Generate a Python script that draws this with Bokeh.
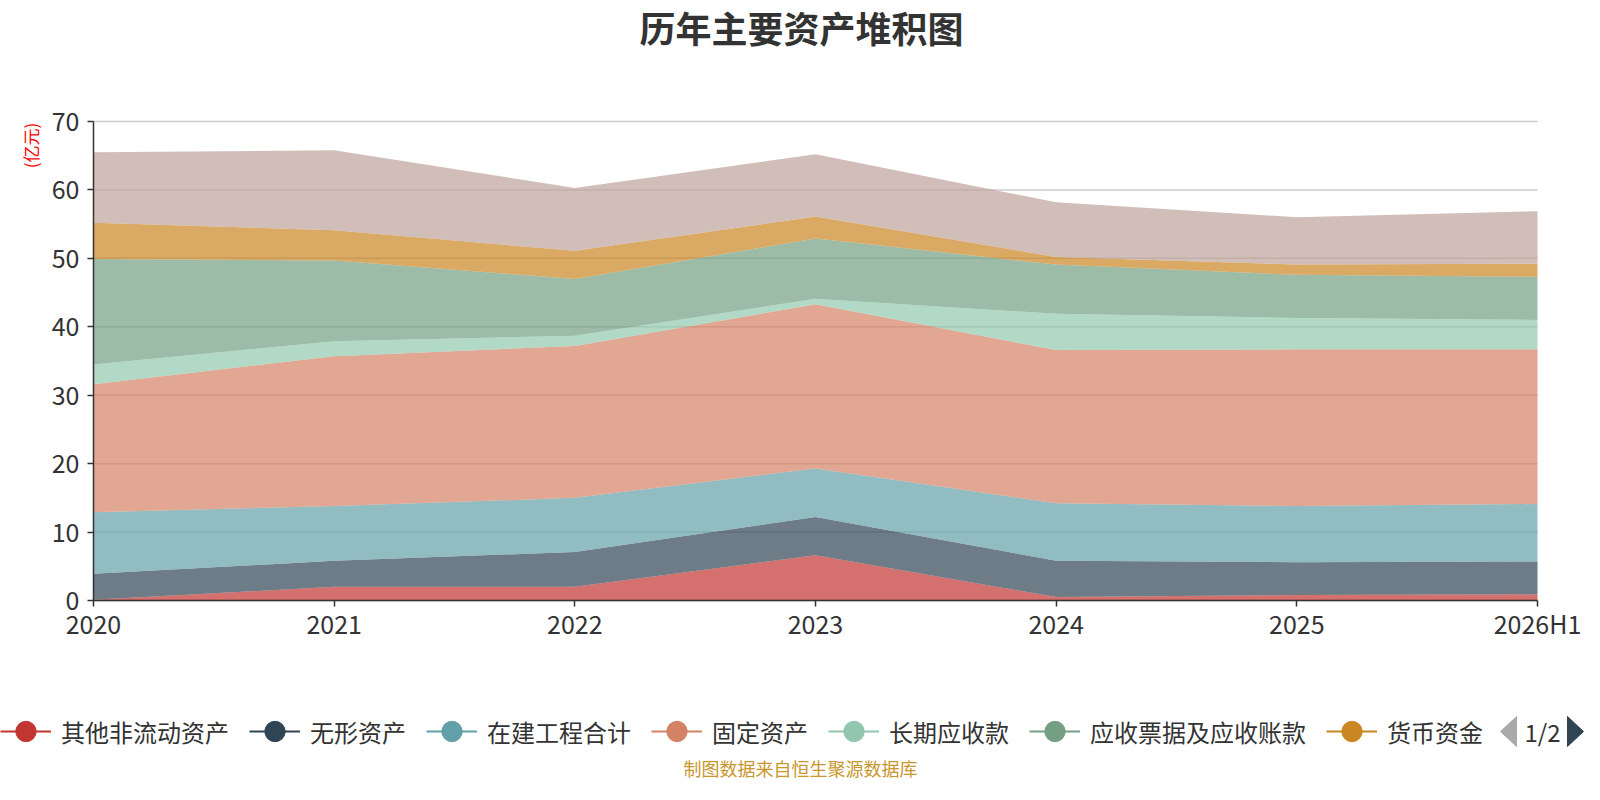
from bokeh.plotting import figure
from bokeh.models import (Range1d, FixedTicker, Label, Legend, LegendItem,
                          ColumnDataSource)
from bokeh.embed import file_html
from bokeh.resources import INLINE
import math

# ---------------- data ----------------
periods = ["2020", "2021", "2022", "2023", "2024", "2025", "2026H1"]
series_names = ["其他非流动资产", "无形资产", "在建工程合计", "固定资产",
                "长期应收款", "应收票据及应收账款", "货币资金", "存货"]
other_noncurrent = [0.1, 2.0, 2.0, 6.6, 0.5, 0.8, 0.9]
intangible = [3.8, 3.8, 5.1, 5.6, 5.3, 4.8, 4.8]
construction = [9.0, 8.0, 7.9, 7.1, 8.4, 8.2, 8.4]
fixed_assets = [18.7, 21.9, 22.2, 24.0, 22.4, 22.9, 22.6]
long_receivable = [2.9, 2.2, 1.5, 0.8, 5.3, 4.6, 4.3]
notes_receivable = [15.4, 11.8, 8.3, 8.8, 7.2, 6.3, 6.3]
cash = [5.3, 4.4, 4.1, 3.2, 1.1, 1.5, 1.9]
inventory = [10.3, 11.7, 9.2, 9.1, 8.0, 6.9, 7.7]
y_ticks = [0, 10, 20, 30, 40, 50, 60, 70]
colors = ["#c23531", "#2f4554", "#61a0a8", "#d48265",
          "#91c7ae", "#749f83", "#ca8622", "#bda29a"]

all_series = [other_noncurrent, intangible, construction, fixed_assets,
              long_receivable, notes_receivable, cash, inventory]

FONT = "Noto Sans CJK SC"
W, H = 1584, 784
# plot area (pixels in canvas)
PL, PR, PT, PB = 93, 1537, 121, 600
XMAX, YMAX = len(periods) - 1, 70
sx = (PR - PL) / XMAX
sy = (PB - PT) / YMAX

p = figure(width=W, height=H, output_backend="svg", toolbar_location=None,
           frame_width=W, frame_height=H, min_border=0,
           x_range=Range1d(-PL / sx, XMAX + (W - PR) / sx),
           y_range=Range1d(-(H - PB) / sy, YMAX + PT / sy))
p.title.visible = False
p.outline_line_color = None
p.xgrid.grid_line_color = None
p.ygrid.grid_line_color = None


def dx(px):
    return (px - PL) / sx


def dy(py):
    return (PB - py) / sy


xs = list(range(len(periods)))

# horizontal grid lines at the y ticks, spanning the category extent
p.segment(x0=[xs[0]] * len(y_ticks), x1=[xs[-1]] * len(y_ticks),
          y0=y_ticks, y1=y_ticks, line_color="#cccccc", line_width=1.5)

data = {"x": xs}
keys = []
for i, s in enumerate(all_series):
    k = f"s{i}"
    data[k] = s
    keys.append(k)
src = ColumnDataSource(data)
p.varea_stack(stackers=keys, x="x", source=src, color=colors, fill_alpha=0.7)

# axes, pinned to the data origin
p.xaxis.fixed_location = 0
p.yaxis.fixed_location = 0
p.xaxis.bounds = (xs[0], xs[-1])
p.yaxis.bounds = (y_ticks[0], y_ticks[-1])
p.xaxis.ticker = FixedTicker(ticks=xs)
p.xaxis.major_label_overrides = {i: lab for i, lab in enumerate(periods)}
p.yaxis.ticker = FixedTicker(ticks=y_ticks)
for ax in (p.xaxis, p.yaxis):
    ax.axis_line_color = "#333333"
    ax.axis_line_width = 1.5
    ax.major_tick_line_color = "#333333"
    ax.major_tick_line_width = 1.5
    ax.major_tick_out = 6
    ax.major_tick_in = 0
    ax.minor_tick_line_color = None
    ax.major_label_text_font = FONT
    ax.major_label_text_font_size = "25px"
    ax.major_label_text_color = "#333333"
p.xaxis.major_label_standoff = -2
p.yaxis.major_label_standoff = 8

# title
p.add_layout(Label(x=dx(801), y=dy(26), text="历年主要资产堆积图",
                   text_font=FONT, text_font_size="36px", text_font_style="bold",
                   text_color="#333333", text_align="center", text_baseline="middle"))
# unit label
p.add_layout(Label(x=dx(30), y=dy(145), text="(亿元)", angle=math.pi / 2,
                   text_font=FONT, text_font_size="17px", text_color="#ff0000",
                   text_align="center", text_baseline="middle"))
# footer
p.add_layout(Label(x=dx(800), y=dy(767), text="制图数据来自恒生聚源数据库",
                   text_font=FONT, text_font_size="18px", text_color="#c9962c",
                   text_align="center", text_baseline="middle"))

# legend (first page: 7 items)
LEG_Y = 731
GH = 56
items = []
for i in range(7):
    ln = p.line([dx(-60), dx(-50)], [dy(-60), dy(-60)], line_color=colors[i], line_width=2)
    sc = p.scatter([dx(-55)], [dy(-60)], marker="circle", size=20,
                   fill_color=colors[i], line_color=colors[i])
    items.append(LegendItem(label=series_names[i], renderers=[ln, sc]))
legend = Legend(items=items, orientation="horizontal",
                location=(0, int(H - LEG_Y - GH / 2)),
                glyph_width=51, glyph_height=GH, label_standoff=10, spacing=20,
                padding=0, margin=0, border_line_alpha=0, background_fill_alpha=0,
                label_text_font=FONT, label_text_font_size="24px",
                label_text_color="#333333", label_text_baseline="middle")
p.add_layout(legend, "center")

# pager  ◀ 1/2 ▶
p.patch([dx(1500), dx(1516), dx(1516)], [dy(LEG_Y), dy(LEG_Y - 15), dy(LEG_Y + 15)],
        fill_color="#aaaaaa", line_color="#aaaaaa")
p.add_layout(Label(x=dx(1542), y=dy(LEG_Y), text="1/2", text_font=FONT,
                   text_font_size="24px", text_color="#333333",
                   text_align="center", text_baseline="middle"))
p.patch([dx(1567), dx(1567), dx(1583)], [dy(LEG_Y - 15), dy(LEG_Y + 15), dy(LEG_Y)],
        fill_color="#2f4554", line_color="#2f4554")

open("out.html", "w").write(file_html(p, INLINE))
